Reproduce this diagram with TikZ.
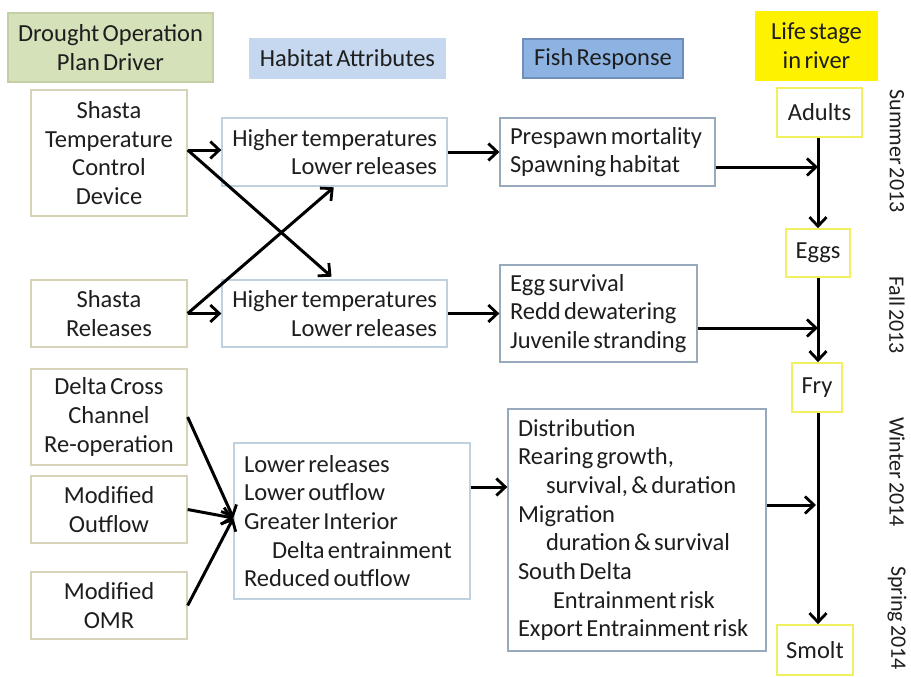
\documentclass[tikz,border=0pt]{standalone}
\usepackage{fontspec}
\setmainfont{Carlito}[WordSpace=0.6]
\usetikzlibrary{arrows.meta}
\definecolor{txt}{HTML}{1E1E1E}
\definecolor{drvb}{HTML}{D6D3B8}
\definecolor{habb}{HTML}{BFD1DE}
\definecolor{fishb}{HTML}{97A9BC}
\definecolor{lifeb}{HTML}{F0F060}
\definecolor{h1fill}{HTML}{D5E1B9}
\definecolor{h1draw}{HTML}{C4CFA3}
\definecolor{h2fill}{HTML}{C5D8F0}
\definecolor{h3fill}{HTML}{8DB3E2}
\definecolor{h3draw}{HTML}{6F8FBA}
\newcommand{\fs}{\fontsize{24.5}{28.7}\selectfont}
\tikzset{
  base/.style={draw, line width=1.3pt, inner xsep=10pt, inner ysep=0pt, font=\fs, text=txt},
  drv/.style={base, draw=drvb, align=flush center},
  hab/.style={base, draw=habb},
  fish/.style={base, draw=fishb, align=flush left},
  life/.style={base, draw=lifeb, line width=1.6pt, align=center, inner xsep=0pt},
  head/.style={base, align=center, inner xsep=0pt},
  season/.style={font=\fontsize{22}{26}\selectfont, text=txt, rotate=-90},
  arr/.style={line width=3pt, -{Straight Barb[length=9pt,width=17pt,line width=2.8pt]}}
}
\begin{document}
\begin{tikzpicture}[x=1pt,y=-1pt]
\useasboundingbox[fill=white] (0,0) rectangle (911,677);
% headers
\node[head, fill=h1fill, draw=h1draw, minimum width=205pt, minimum height=69pt] (h1) at (110.5,47.5) {Drought Operation\\Plan Driver};
\node[head, fill=h2fill, draw=h2fill, minimum width=195pt, minimum height=39pt] (h2) at (347.5,58.5) {Habitat Attributes};
\node[head, fill=h3fill, draw=h3draw, minimum width=160pt, minimum height=39pt] (h3) at (603,58.5) {Fish Response};
\node[head, fill=yellow, draw=yellow, minimum width=121pt, minimum height=68pt] (h4) at (816.5,46) {Life stage\\in river};
% drivers
\node[drv, text width=136pt, minimum height=126pt] (tcd) at (109,153) {Shasta\\Temperature\\Control\\Device};
\node[drv, text width=136pt, minimum height=67pt] (sr) at (109,313.5) {Shasta\\Releases};
\node[drv, text width=136pt, minimum height=96pt] (dcc) at (109,417) {Delta Cross\\Channel\\Re-operation};
\node[drv, text width=136pt, minimum height=67pt] (mo) at (109,509.5) {Modified\\Outflow};
\node[drv, text width=136pt, minimum height=67pt] (omr) at (109,605.5) {Modified\\OMR};
% habitat
\node[hab, align=flush right, text width=205pt, minimum height=68pt] (ha1) at (334.5,152) {Higher temperatures\\Lower releases};
\node[hab, align=flush right, text width=205pt, minimum height=67pt] (ha2) at (334.5,313.5) {Higher temperatures\\Lower releases};
\node[hab, align=flush left, text width=216pt, minimum height=156pt] (ha3) at (352,521) {Lower releases\\Lower outflow\\Greater Interior\\\hspace*{28pt}Delta entrainment\\Reduced outflow};
% fish
\node[fish, text width=195pt, minimum height=68pt] (fr1) at (607.5,152) {Prespawn mortality\\Spawning habitat};
\node[fish, text width=177pt, minimum height=97pt] (fr2) at (598.5,313.5) {Egg survival\\Redd dewatering\\Juvenile stranding};
\node[fish, text width=238pt, minimum height=242pt] (fr3) at (637,530) {Distribution\\Rearing growth,\\\hspace*{28pt}survival, \& duration\\Migration\\\hspace*{28pt}duration \& survival\\South Delta\\\hspace*{35pt}Entrainment risk\\Export Entrainment risk};
% life stages
\node[life, minimum width=85pt, minimum height=49pt] (adults) at (819.5,112.5) {Adults};
\node[life, minimum width=64pt, minimum height=48pt] (eggs) at (818,253) {Eggs};
\node[life, minimum width=50pt, minimum height=49pt] (fry) at (817,387.5) {Fry};
\node[life, minimum width=76pt, minimum height=50pt] (smolt) at (815,650) {Smolt};
% seasons
\node[season] (s1) at (897,151) {Summer 2013};
\node[season] (s2) at (897,315) {Fall 2013};
\node[season] (s3) at (897,472) {Winter 2014};
\node[season] (s4) at (897,618) {Spring 2014};
% river line
\coordinate (riv) at (818,0);
\draw[arr] (adults.south -| riv) -- (eggs.north -| riv);
\draw[arr] (eggs.south -| riv) -- (fry.north -| riv);
\draw[arr] (fry.south -| riv) -- (smolt.north -| riv);
% fish to river
\coordinate (f1o) at ([yshift=-15pt]fr1.east);
\coordinate (f2o) at ([yshift=-14.5pt]fr2.east);
\coordinate (f3o) at ([yshift=25pt]fr3.east);
\draw[arr] (f1o) -- (f1o -| riv);
\draw[arr] (f2o) -- (f2o -| riv);
\draw[arr, shorten >=2pt] (f3o) -- (f3o -| riv);
% habitat to fish
\draw[arr] (ha1.east) -- (ha1.east -| fr1.west);
\draw[arr] (ha2.east) -- (ha2.east -| fr2.west);
\coordinate (h3o) at ([yshift=34pt]ha3.east);
\draw[arr] (h3o) -- (h3o -| fr3.west);
% drivers to habitat
\coordinate (tcdo) at ([yshift=3pt]tcd.east);
\draw[arr] (tcdo) -- (tcdo -| ha1.west);
\draw[arr, shorten >=4pt] (tcdo) -- (ha2.north);
\draw[arr] (sr.east) -- (ha2.west);
\draw[arr, shorten >=1pt] (sr.east) -- (ha1.south);
\coordinate (h3i) at ([yshift=3pt]ha3.west);
\draw[arr] (dcc.east) -- (h3i);
\draw[arr] (mo.east) -- (h3i);
\draw[arr] (omr.east) -- (h3i);
\end{tikzpicture}
\end{document}
